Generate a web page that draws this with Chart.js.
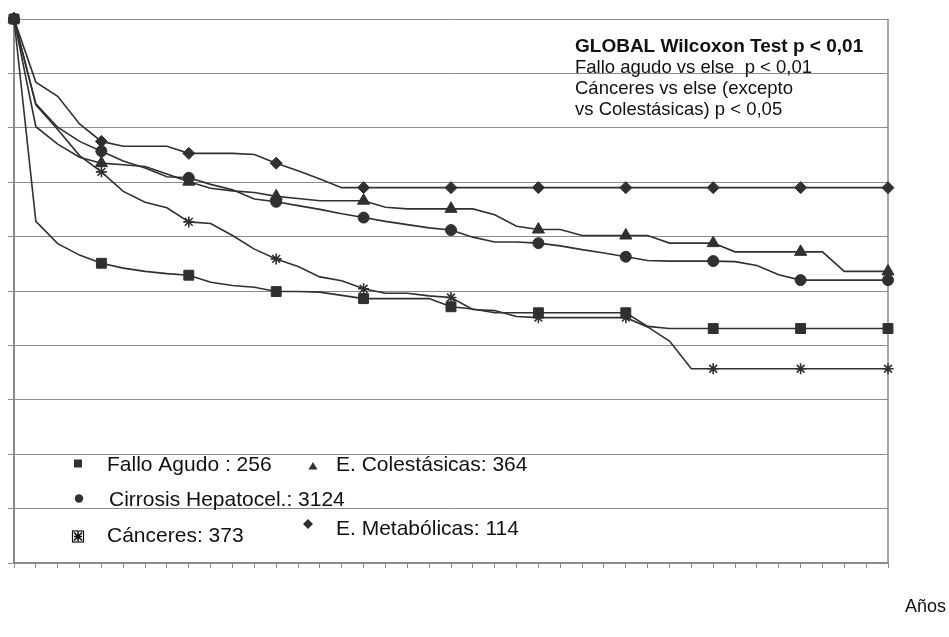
<!DOCTYPE html>
<html>
<head>
<meta charset="utf-8">
<script src="https://cdn.jsdelivr.net/npm/chart.js@4.4.1/dist/chart.umd.min.js"></script>
<style>
  html, body { margin: 0; padding: 0; background: #fff; }
  #wrap { width: 949px; height: 637px; }
</style>
</head>
<body>
<div id="wrap"><canvas id="chart" width="949" height="637"></canvas></div>
<script>
// quarterly steps, 0 to 10 years
const years = [
  "0", "0.25", "0.5", "0.75", "1", "1.25", "1.5", "1.75", "2", "2.25", "2.5", "2.75",
  "3", "3.25", "3.5", "3.75", "4", "4.25", "4.5", "4.75", "5", "5.25", "5.5", "5.75",
  "6", "6.25", "6.5", "6.75", "7", "7.25", "7.5", "7.75", "8", "8.25", "8.5", "8.75",
  "9", "9.25", "9.5", "9.75", "10"
];

const falloAgudo = [
  100, 62.8, 58.7, 56.6, 55.1, 54.2, 53.6, 53.2, 52.9, 51.6, 51.0, 50.7,
  49.9, 49.9, 49.8, 49.2, 48.6, 48.6, 48.6, 48.6, 47.1, 46.7, 46.0, 46.0,
  46.0, 46.0, 46.0, 46.0, 46.0, 43.5, 43.1, 43.1, 43.1, 43.1, 43.1, 43.1,
  43.1, 43.1, 43.1, 43.1, 43.1
];
const colestasicas = [
  100, 80.2, 77.0, 74.6, 73.5, 73.2, 72.9, 71.5, 70.1, 68.9, 68.4, 68.1,
  67.4, 67.0, 66.6, 66.6, 66.6, 65.4, 65.1, 65.1, 65.1, 65.1, 64.0, 61.9,
  61.3, 61.3, 60.2, 60.2, 60.2, 60.2, 58.8, 58.8, 58.8, 57.2, 57.2, 57.2,
  57.2, 57.2, 53.6, 53.6, 53.6
];
const cirrosis = [
  100, 84.4, 80.1, 77.5, 75.7, 73.9, 72.6, 71.0, 70.8, 69.6, 68.6, 66.9,
  66.4, 65.7, 65.0, 64.2, 63.5, 62.8, 62.2, 61.6, 61.2, 59.9, 59.0, 59.0,
  58.8, 58.3, 57.6, 57.0, 56.3, 55.6, 55.5, 55.5, 55.5, 55.4, 54.7, 53.0,
  52.0, 52.0, 52.0, 52.0, 52.0
];
const canceres = [
  100, 84.2, 79.7, 74.9, 71.9, 68.3, 66.3, 65.3, 62.7, 62.4, 60.2, 57.7,
  55.9, 54.5, 52.6, 51.9, 50.4, 49.6, 49.6, 49.1, 48.8, 46.6, 46.4, 45.3,
  45.1, 45.1, 45.1, 45.1, 45.1, 43.4, 40.8, 35.7, 35.7, 35.7, 35.7, 35.7,
  35.7, 35.7, 35.7, 35.7, 35.7
];
const metabolicas = [
  100, 88.4, 85.8, 80.7, 77.5, 76.6, 76.6, 76.6, 75.3, 75.3, 75.3, 75.1,
  73.5, 72.1, 70.6, 69.0, 69.0, 69.0, 69.0, 69.0, 69.0, 69.0, 69.0, 69.0,
  69.0, 69.0, 69.0, 69.0, 69.0, 69.0, 69.0, 69.0, 69.0, 69.0, 69.0, 69.0,
  69.0, 69.0, 69.0, 69.0, 69.0
];

const seriesNames = [
  "Fallo Agudo : 256",
  "E. Colestásicas: 364",
  "Cirrosis Hepatocel.: 3124",
  "Cánceres: 373",
  "E. Metabólicas: 114"
];
const noteLines = [
  "GLOBAL Wilcoxon Test p < 0,01",
  "Fallo agudo vs else  p < 0,01",
  "Cánceres vs else (excepto",
  "vs Colestásicas) p < 0,05"
];
const axisTitle = "Años";

const INK = "#303030";
const GRID = "#8a8a8a";
const FONT = "\"Liberation Sans\", Arial, sans-serif";

// markers only once a year
const yearlyRadius = r => c => (c.dataIndex % 4 === 0 ? r : 0);

function series(label, data, pointStyle, radius) {
  return {
    label,
    data,
    borderColor: INK,
    backgroundColor: INK,
    borderWidth: 1.6,
    pointStyle,
    pointRadius: yearlyRadius(radius),
    pointBackgroundColor: INK,
    pointBorderColor: INK,
    pointBorderWidth: pointStyle === "star" ? 1.6 : 1,
    tension: 0,
    clip: false
  };
}

function drawMarker(ctx, kind, x, y) {
  ctx.fillStyle = INK;
  ctx.strokeStyle = "#111";
  ctx.beginPath();
  if (kind === "square") {
    ctx.fillRect(x - 4, y - 4, 8, 8);
  } else if (kind === "triangle") {
    ctx.moveTo(x, y - 4);
    ctx.lineTo(x + 4.5, y + 3.5);
    ctx.lineTo(x - 4.5, y + 3.5);
    ctx.closePath();
    ctx.fill();
  } else if (kind === "circle") {
    ctx.arc(x, y, 4.2, 0, Math.PI * 2);
    ctx.fill();
  } else if (kind === "diamond") {
    ctx.moveTo(x, y - 5);
    ctx.lineTo(x + 5, y);
    ctx.lineTo(x, y + 5);
    ctx.lineTo(x - 5, y);
    ctx.closePath();
    ctx.fill();
  } else if (kind === "boxstar") {
    ctx.lineWidth = 1.2;
    ctx.strokeRect(x - 5.5, y - 5.5, 11, 11);
    ctx.beginPath();
    ctx.moveTo(x - 4, y - 4); ctx.lineTo(x + 4, y + 4);
    ctx.moveTo(x + 4, y - 4); ctx.lineTo(x - 4, y + 4);
    ctx.moveTo(x, y - 5); ctx.lineTo(x, y + 5);
    ctx.moveTo(x - 4, y); ctx.lineTo(x + 4, y);
    ctx.lineWidth = 1.6;
    ctx.stroke();
  }
}

const overlay = {
  id: "overlay",
  beforeDatasetsDraw(chart) {
    const { ctx, chartArea } = chart;
    ctx.save();
    ctx.strokeStyle = GRID;
    ctx.lineWidth = 1.5;
    ctx.beginPath();
    ctx.moveTo(chartArea.right, chartArea.top);
    ctx.lineTo(chartArea.right, chartArea.bottom);
    ctx.stroke();
    ctx.restore();
  },
  afterDraw(chart) {
    const ctx = chart.ctx;
    ctx.save();
    ctx.textBaseline = "alphabetic";
    ctx.textAlign = "left";

    // legend, inside the plot
    const legend = [
      ["square", 78, 463.5, 107, 470.5],
      ["triangle", 313, 466, 336, 470.5],
      ["circle", 79, 498.5, 109, 505.5],
      ["boxstar", 78, 536.5, 107, 541.5],
      ["diamond", 308, 524, 336, 535]
    ];
    legend.forEach(([kind, mx, my, tx, ty], i) => {
      drawMarker(ctx, kind, mx, my);
      ctx.fillStyle = "#111";
      ctx.font = "21px " + FONT;
      ctx.fillText(seriesNames[i], tx, ty);
    });

    // test note, top right
    const noteY = [51.5, 72.5, 93.5, 114.5];
    noteLines.forEach((line, i) => {
      ctx.font = (i === 0 ? "bold 19px " : "18.5px ") + FONT;
      ctx.fillStyle = "#111";
      ctx.fillText(line, 575, noteY[i]);
    });

    ctx.font = "18px " + FONT;
    ctx.fillText(axisTitle, 905, 611.5);
    ctx.restore();
  }
};

new Chart(document.getElementById("chart"), {
  type: "line",
  data: {
    labels: years,
    datasets: [
      series(seriesNames[0], falloAgudo, "rect", 7),
      series(seriesNames[1], colestasicas, "triangle", 7),
      series(seriesNames[2], cirrosis, "circle", 5.5),
      series(seriesNames[3], canceres, "star", 5.5),
      series(seriesNames[4], metabolicas, "rectRot", 6)
    ]
  },
  options: {
    responsive: false,
    animation: false,
    events: [],
    layout: {
      autoPadding: false,
      padding: { left: 8, top: 19, right: 61, bottom: 69 }
    },
    plugins: {
      legend: { display: false },
      tooltip: { enabled: false }
    },
    scales: {
      x: {
        grid: { drawOnChartArea: false, color: GRID, tickLength: 5, lineWidth: 1 },
        border: { color: GRID, width: 2 },
        ticks: { display: false }
      },
      y: {
        min: 0,
        max: 100,
        ticks: { display: false, stepSize: 10 },
        grid: { color: GRID, tickLength: 6, lineWidth: 1 },
        border: { color: GRID, width: 2 }
      }
    }
  },
  plugins: [overlay]
});
</script>
</body>
</html>
